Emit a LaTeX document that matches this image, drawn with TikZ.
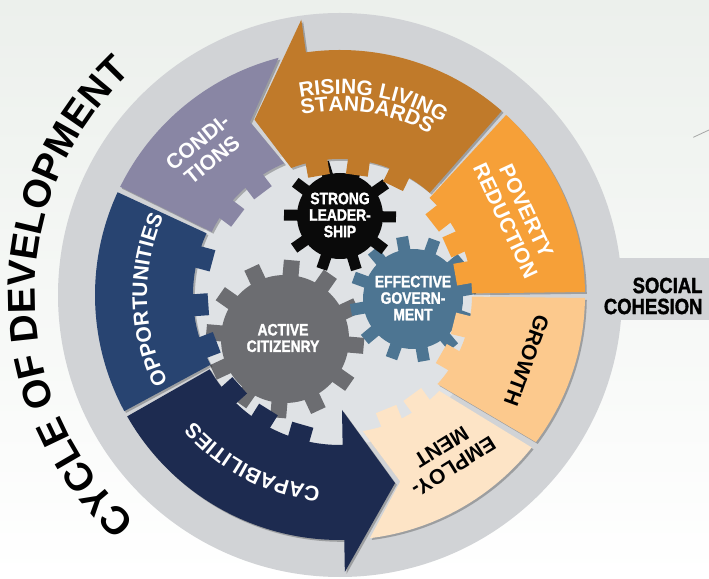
\documentclass[tikz,border=0pt]{standalone}
\usepackage{fontspec}
\setmainfont{Liberation Sans}
\newfontfamily\lsans{Liberation Sans}
\newfontfamily\lcondb{Liberation Sans Bold}[FakeStretch=0.84,FakeBold=1.6]
\usetikzlibrary{decorations.text}
\definecolor{bgtop}{RGB}{236,240,236}
\definecolor{diskgrey}{RGB}{209,211,214}
\definecolor{innergrey}{RGB}{223,226,229}
\definecolor{rising}{RGB}{192,122,42}
\definecolor{poverty}{RGB}{246,160,56}
\definecolor{growth}{RGB}{252,201,141}
\definecolor{employ}{RGB}{253,228,198}
\definecolor{capab}{RGB}{29,43,80}
\definecolor{opport}{RGB}{40,68,113}
\definecolor{condit}{RGB}{137,134,164}
\definecolor{gblack}{RGB}{10,10,10}
\definecolor{gblue}{RGB}{77,117,146}
\definecolor{ggrey}{RGB}{108,109,113}
\newcommand\ringf{\lsans\bfseries\fontsize{21}{23}\selectfont}
\newcommand\gearf{\lcondb\fontsize{16.5}{16.5}\selectfont}
\newcommand\socf{\lcondb\fontsize{22}{21}\selectfont}
\newcommand\cyclef{\lsans\bfseries\fontsize{39}{39}\selectfont}
\tikzset{
  seg/.style={preaction={fill=black,fill opacity=0.25,transform canvas={shift={(1.8pt,-1.8pt)}}}},
  ringtext/.style={font=\ringf,align=center},
  geartext/.style={font=\gearf,align=center,text=white},
}
\begin{document}
\begin{tikzpicture}[x=1pt,y=1pt]
\useasboundingbox (0,0) rectangle (709,578);
\shade[top color=bgtop,bottom color=white] (0,0) rectangle (709,578);
\coordinate (C) at (340,283);
% disk and social cohesion band
\fill[diskgrey] (C) circle[radius=282];
\fill[diskgrey] (560,258) rectangle (709,320);
\fill[innergrey] (C) circle[radius=150];
\draw[gray!70,line width=0.8] (693.3,440.7) -- (709,448);
% gears
\begin{scope}[shift={(285,239)}]
  \fill[ggrey] (0,0) circle[radius=64];
  \foreach \a in {0,...,11} \fill[ggrey,rotate={85+30*\a}] (60,-8) rectangle (79,8);
\end{scope}
\begin{scope}[shift={(413,279)}]
  \fill[gblue] (0,0) circle[radius=50];
  \foreach \a in {0,...,11} \fill[gblue,rotate={100+30*\a}] (46,-6) rectangle (63,6);
\end{scope}
\begin{scope}[shift={(340,362)}]
  \fill[gblack] (0,0) circle[radius=43];
  \foreach \a in {0,...,9} \fill[gblack,rotate={107+36*\a}] (40,-5.5) rectangle (56,5.5);
\end{scope}
% ring segments
\begin{scope}[shift={(C)}]
  % poverty reduction
  \fill[poverty,seg] (0.7:132) -- (0.7:245) arc[start angle=0.7,end angle=47.3,radius=245] -- (47.3:132) arc[start angle=47.3,end angle=0.7,radius=132] -- cycle;
  \foreach \t in {38,24,10} \fill[poverty,rotate=\t] (117,-11) rectangle (135,11);
  % rising living standards
  \fill[rising,seg] (48.7:136) -- (48.7:245) arc[start angle=48.7,end angle=98,radius=245] -- (98:278) -- (116:195) -- (111:136) arc[start angle=111,end angle=48.7,radius=136] -- cycle;
  \foreach \t in {100,82,64} \fill[rising,rotate=\t] (121,-11) rectangle (139,11);
  % conditions
  \fill[condit,seg] (153.8:143) -- (153.8:245) arc[start angle=153.8,end angle=104.5,radius=245] -- (117.5:195) -- (113:143) arc[start angle=113,end angle=153.8,radius=143] -- cycle;
  \foreach \t in {127,143} \fill[condit,rotate=\t] (128,-11) rectangle (146,11);
  % opportunities
  \fill[opport,seg] (155.2:147) -- (155.2:245) arc[start angle=155.2,end angle=208.3,radius=245] -- (208.3:147) arc[start angle=208.3,end angle=155.2,radius=147] -- cycle;
  \foreach \t in {165,184,201} \fill[opport,rotate=\t] (132,-11) rectangle (150,11);
  % capabilities
  \fill[capab,seg] (209.7:150) -- (209.7:245) arc[start angle=209.7,end angle=271,radius=245] -- (271:277) -- (286.3:196) -- (271:115) -- (271:150) arc[start angle=271,end angle=209.7,radius=150] -- cycle;
  \foreach \t in {222,238,254} \fill[capab,rotate=\t] (135,-11) rectangle (153,11);
  % employment
  \fill[employ,seg] (277:245) arc[start angle=277,end angle=321.5,radius=245] -- (316:138) arc[start angle=316,end angle=279.5,radius=138] -- (287.9:196) -- cycle;
  \foreach \t in {292,306} \fill[employ,rotate=\t] (123,-11) rectangle (141,11);
  % growth
  \fill[growth,seg] (323.1:245) arc[start angle=323.1,end angle=359.3,radius=245] -- (359.3:132) arc[start angle=359.3,end angle=317.6,radius=132] -- cycle;
  \foreach \t in {330,346} \fill[growth,rotate=\t] (117,-11) rectangle (135,11);
  % curved labels
  \path[decorate,decoration={text along path,text={|\ringf|RISING LIVING},text align=center,text color=white}]
    (130:201) arc[start angle=130,end angle=30.6,radius=201];
  \path[decorate,decoration={text along path,text={|\ringf|STANDARDS},text align=center,text color=white}]
    (130:184) arc[start angle=130,end angle=32.8,radius=184];
  \path[decorate,decoration={text along path,text={|\ringf|OPPORTUNITIES},text align=center,text color=white}]
    (230:193) arc[start angle=230,end angle=133,radius=193];
  \path[decorate,decoration={text along path,text={|\ringf|CAPABILITIES},text align=center,text color=white}]
    (290:193) arc[start angle=290,end angle=195,radius=193];
  \path[decorate,decoration={text along path,text={|\cyclef|CYCLE OF DEVELOPMENT},text align=center,text color=black}]
    (233:305) arc[start angle=233,end angle=128,radius=305];
\end{scope}
% straight labels
\node[ringtext,text=white,rotate=-65] (pov) at (516,362) {POVERTY\\REDUCTION};
\node[ringtext,text=black,rotate=-110] (gro) at (526.5,217.5) {GROWTH};
\node[ringtext,text=black,rotate=-148] (emp) at (447.5,121) {EMPLOY-\\MENT};
\node[ringtext,text=white,rotate=39] (con) at (204.75,427) {CONDI-\\TIONS};
% gear labels
\node[geartext] (sl) at (340,363) {STRONG\\LEADER-\\SHIP};
\node[geartext] (eg) at (413,280) {EFFECTIVE\\GOVERN-\\MENT};
\node[geartext] (ac) at (283,240) {ACTIVE\\CITIZENRY};
\node[font=\socf,align=right,anchor=east] (soc) at (706,282) {SOCIAL\\COHESION};
\end{tikzpicture}
\end{document}
